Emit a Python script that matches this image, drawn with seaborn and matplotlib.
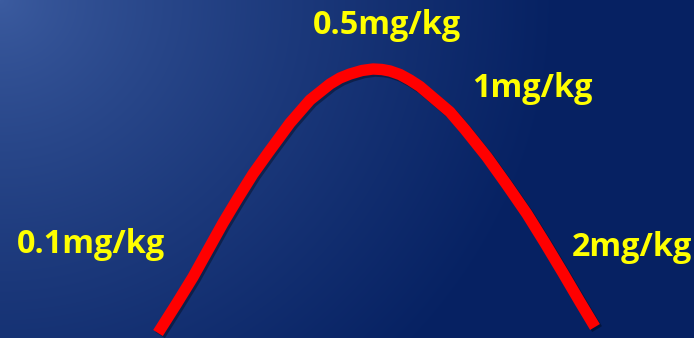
import numpy as np
import pandas as pd
import matplotlib
matplotlib.use("Agg")
import matplotlib.pyplot as plt
import matplotlib.patheffects as pe
import seaborn as sns

# Dose-response curve (position along the dose axis, response level)
dose_position = [158, 177, 193, 208, 223, 238, 253, 268, 290, 310, 330, 340,
                 350, 362, 373, 382, 390, 400, 410, 420, 430, 450, 465, 487,
                 507, 527, 545, 563, 580, 595]
response = [5, 35, 61, 88, 115, 140, 164, 185, 215, 238, 254, 260,
            264, 267.5, 269, 268.5, 267, 263.5, 258, 251.5, 243, 226, 208.5, 181,
            153, 124, 95, 65, 36, 11]

# Dose labels
dose_labels = ["0.1mg/kg", "0.5mg/kg", "1mg/kg", "2mg/kg"]
label_x = [17, 313, 472, 572]
label_baseline = [85, 304, 241, 82]

W, H = 694, 338

sns.set_theme(style="white")
plt.rcParams["font.family"] = ["Open Sans", "DejaVu Sans"]

fig = plt.figure(figsize=(W / 100, H / 100), dpi=100)
ax = fig.add_axes([0, 0, 1, 1])

# Diagonal blue gradient background, light at top-left, navy toward the right
yy, xx = np.mgrid[0:H, 0:W]
t = np.sqrt((xx / 560.0) ** 2 + (yy / 520.0) ** 2)
t = np.clip(t, 0, 1) ** 0.8
c0 = np.array([60, 92, 160]) / 255.0
c1 = np.array([6, 33, 98]) / 255.0
img = c0[None, None, :] * (1 - t[..., None]) + c1[None, None, :] * t[..., None]
ax.imshow(img[::-1], extent=[0, W, 0, H], origin="lower", aspect="auto", zorder=0)

df = pd.DataFrame({"dose": dose_position, "response": response})
sns.lineplot(data=df, x="dose", y="response", sort=False, color="#ff0000",
             linewidth=8.2, ax=ax, zorder=3,
             path_effects=[pe.SimpleLineShadow(offset=(1.5, -1.5), shadow_color="black", alpha=0.35),
                           pe.Normal()])
for line in ax.get_lines():
    line.set_solid_capstyle("butt")
    line.set_solid_joinstyle("round")

for txt, x, y in zip(dose_labels, label_x, label_baseline):
    ax.text(x, y, txt, color="#ffff00", fontsize=23.3, fontweight="bold",
            ha="left", va="baseline", zorder=4)

ax.set_xlim(0, W)
ax.set_ylim(0, H)
ax.axis("off")

fig.savefig("out.png", dpi=100)
